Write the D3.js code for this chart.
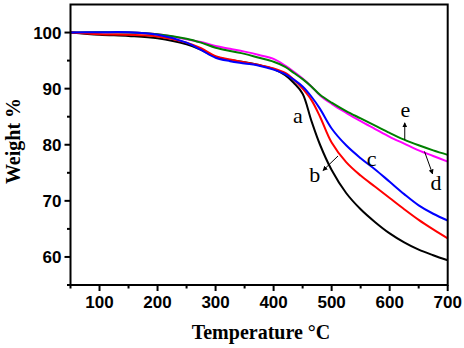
<!DOCTYPE html>
<html>
<head>
<meta charset="utf-8">
<script src="https://cdn.jsdelivr.net/npm/d3@7"></script>
<style>
  body { margin: 0; background: #fff; }
  svg { display: block; }
</style>
</head>
<body>
<div id="chart"></div>
<script>
// temperatures (°C) shared by all curves
const temps = [50, 100, 150, 200, 250, 275, 300, 325, 350, 375, 400, 420, 435, 450, 465, 480, 500, 525, 550, 575, 600, 625, 650, 675, 700];

// weight %
const weightA = [100, 99.6, 99.4, 99.0, 97.9, 96.9, 95.7, 95.1, 94.7, 94.2, 93.5, 92.4, 91.0, 89.1, 84.3, 80.0, 75.5, 71.4, 68.5, 66.2, 64.2, 62.6, 61.3, 60.3, 59.4];
const weightB = [100, 99.7, 99.6, 99.3, 98.2, 97.2, 95.8, 95.2, 94.7, 94.2, 93.6, 92.8, 91.6, 90.0, 88.0, 85.0, 80.4, 76.9, 74.5, 72.5, 70.5, 68.5, 66.6, 64.9, 63.3];
const weightC = [100, 100.05, 100.05, 99.6, 98.2, 96.9, 95.5, 94.9, 94.5, 94.1, 93.4, 92.6, 91.6, 90.4, 88.6, 86.4, 82.9, 79.9, 77.6, 75.6, 73.4, 71.2, 69.2, 67.7, 66.5];
const weightD = [100, 100, 100, 99.7, 98.8, 98.3, 97.6, 97.1, 96.6, 96.0, 95.3, 94.1, 93.0, 91.8, 90.4, 88.8, 87.3, 85.7, 84.2, 82.8, 81.4, 80.2, 79.0, 78.0, 77.0];
const weightE = [100, 100.05, 100, 99.7, 98.9, 98.2, 97.3, 96.7, 96.2, 95.5, 94.8, 93.9, 92.8, 91.7, 90.4, 88.9, 87.5, 86.0, 84.7, 83.4, 82.1, 80.9, 79.9, 79.0, 78.2];

const seriesNames = ["a", "b", "c", "d", "e"];
const seriesColors = ["#000000", "#ff0000", "#0000ff", "#ff00ff", "#008000"];

const xTicks = [100, 200, 300, 400, 500, 600, 700];
const yTicks = [60, 70, 80, 90, 100];

// curve labels and arrows, in data units
const labels = [
  {text: "a", t: 442, w: 83.9},
  {text: "b", t: 471, w: 73.4},
  {text: "c", t: 569, w: 76.2},
  {text: "d", t: 680, w: 71.9},
  {text: "e", t: 627, w: 84.9}
];
const arrows = [
  {t1: 511, w1: 78.0, t2: 485, w2: 75.4},
  {t1: 660, w1: 78.8, t2: 674, w2: 74.8},
  {t1: 626, w1: 80.9, t2: 626, w2: 83.9}
];

const width = 464, height = 348;
const margin = {top: 4.5, right: 16.3, bottom: 63, left: 70.5};

const svg = d3.select("#chart").append("svg")
    .attr("width", width)
    .attr("height", height);

const x = d3.scaleLinear().domain([50, 700]).range([margin.left, width - margin.right]);
const y = d3.scaleLinear().domain([55, 105]).range([height - margin.bottom, margin.top]);

svg.append("defs").append("marker")
    .attr("id", "arrowhead")
    .attr("viewBox", "0 0 10 10")
    .attr("refX", 9)
    .attr("refY", 5)
    .attr("markerWidth", 5)
    .attr("markerHeight", 5)
    .attr("markerUnits", "userSpaceOnUse")
    .attr("orient", "auto")
    .append("path")
    .attr("d", "M0,0 L10,5 L0,10 z")
    .attr("fill", "#000");

const allSeries = [weightA, weightB, weightC, weightD, weightE];
const line = d3.line()
    .x(d => x(d[0]))
    .y(d => y(d[1]))
    .curve(d3.curveCatmullRom.alpha(0.5));

// draw order: green under magenta like the reference
const order = [3, 4, 0, 1, 2];
order.forEach(i => {
    svg.append("path")
        .datum(temps.map((t, k) => [t, allSeries[i][k]]))
        .attr("fill", "none")
        .attr("stroke", seriesColors[i])
        .attr("stroke-width", 2)
        .attr("stroke-linejoin", "round")
        .attr("d", line);
});

// frame
svg.append("rect")
    .attr("x", x(50))
    .attr("y", y(105))
    .attr("width", x(700) - x(50))
    .attr("height", y(55) - y(105))
    .attr("fill", "none")
    .attr("stroke", "#000")
    .attr("stroke-width", 2);

// x axis ticks
const xAxis = svg.append("g").attr("transform", `translate(0,${y(55)})`);
xAxis.selectAll(".minor").data(d3.range(50, 701, 100)).join("line")
    .attr("x1", d => x(d)).attr("x2", d => x(d))
    .attr("y1", 0).attr("y2", 3.5)
    .attr("stroke", "#000").attr("stroke-width", 2);
xAxis.selectAll(".major").data(xTicks).join("line")
    .attr("x1", d => x(d)).attr("x2", d => x(d))
    .attr("y1", 0).attr("y2", 6)
    .attr("stroke", "#000").attr("stroke-width", 2);
xAxis.selectAll("text").data(xTicks).join("text")
    .attr("x", d => x(d))
    .attr("y", 23)
    .attr("text-anchor", "middle")
    .style("font-family", "'Liberation Sans', Arial, sans-serif")
    .style("font-weight", "bold")
    .style("font-size", "17px")
    .text(d => d);

// y axis ticks
const yAxis = svg.append("g").attr("transform", `translate(${x(50)},0)`);
yAxis.selectAll(".minor").data(d3.range(55, 105, 10)).join("line")
    .attr("x1", -3.5).attr("x2", 0)
    .attr("y1", d => y(d)).attr("y2", d => y(d))
    .attr("stroke", "#000").attr("stroke-width", 2);
yAxis.selectAll(".major").data(yTicks).join("line")
    .attr("x1", -6).attr("x2", 0)
    .attr("y1", d => y(d)).attr("y2", d => y(d))
    .attr("stroke", "#000").attr("stroke-width", 2);
yAxis.selectAll("text").data(yTicks).join("text")
    .attr("x", -9)
    .attr("y", d => y(d))
    .attr("dy", "0.36em")
    .attr("text-anchor", "end")
    .style("font-family", "'Liberation Sans', Arial, sans-serif")
    .style("font-weight", "bold")
    .style("font-size", "17px")
    .text(d => d);

// axis titles
svg.append("text")
    .attr("x", 261)
    .attr("y", 339)
    .attr("text-anchor", "middle")
    .style("font-family", "'Liberation Serif', 'Times New Roman', serif")
    .style("font-weight", "bold")
    .style("font-size", "20px")
    .text("Temperature °C");

svg.append("text")
    .attr("transform", "translate(20,141) rotate(-90)")
    .attr("text-anchor", "middle")
    .style("font-family", "'Liberation Serif', 'Times New Roman', serif")
    .style("font-weight", "bold")
    .style("font-size", "20px")
    .text("Weight %");

// curve labels
svg.selectAll(".lbl").data(labels).join("text")
    .attr("class", "lbl")
    .attr("x", d => x(d.t))
    .attr("y", d => y(d.w))
    .attr("text-anchor", "middle")
    .style("font-family", "'Liberation Serif', 'Times New Roman', serif")
    .style("font-size", "22px")
    .text(d => d.text);

svg.selectAll(".arrow").data(arrows).join("line")
    .attr("class", "arrow")
    .attr("x1", d => x(d.t1)).attr("y1", d => y(d.w1))
    .attr("x2", d => x(d.t2)).attr("y2", d => y(d.w2))
    .attr("stroke", "#000")
    .attr("stroke-width", 1)
    .attr("marker-end", "url(#arrowhead)");
</script>
</body>
</html>
